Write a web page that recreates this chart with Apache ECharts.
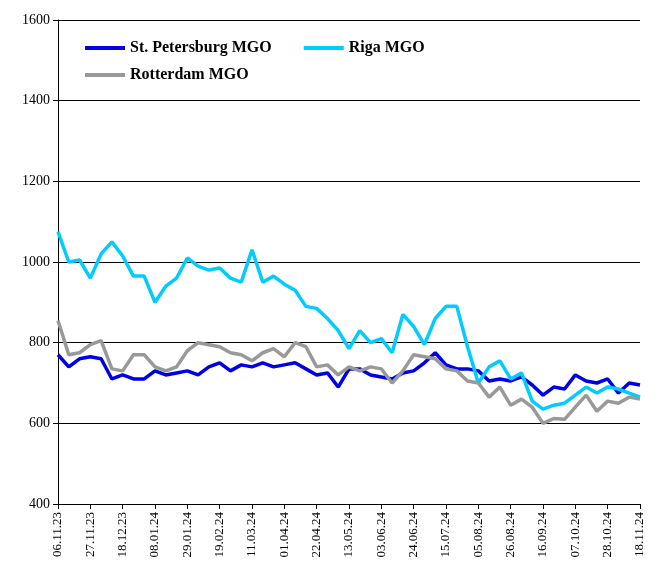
<!DOCTYPE html>
<html><head><meta charset="utf-8">
<script src="https://cdn.jsdelivr.net/npm/echarts@6/dist/echarts.min.js"></script>
<style>html,body{margin:0;padding:0;background:#fff}#c{width:655px;height:585px}</style>
</head><body><div id="c"></div>
<script>
const dates = ['06.11.23','13.11.23','20.11.23','27.11.23','04.12.23','11.12.23','18.12.23','25.12.23','01.01.24','08.01.24','15.01.24','22.01.24','29.01.24','05.02.24','12.02.24','19.02.24','26.02.24','04.03.24','11.03.24','18.03.24','25.03.24','01.04.24','08.04.24','15.04.24','22.04.24','29.04.24','06.05.24','13.05.24','20.05.24','27.05.24','03.06.24','10.06.24','17.06.24','24.06.24','01.07.24','08.07.24','15.07.24','22.07.24','29.07.24','05.08.24','12.08.24','19.08.24','26.08.24','02.09.24','09.09.24','16.09.24','23.09.24','30.09.24','07.10.24','14.10.24','21.10.24','28.10.24','04.11.24','11.11.24','18.11.24'];
const stPetersburg = [770,740,760,765,760,710,720,710,710,730,720,725,730,720,740,750,730,745,740,750,740,745,750,735,720,725,690,735,735,720,715,710,725,730,750,775,745,735,735,730,705,710,705,715,695,670,690,685,720,705,700,710,675,700,695];
const riga = [1075,1000,1005,960,1020,1050,1015,965,965,900,940,960,1010,990,980,985,960,950,1030,950,965,945,930,890,885,860,830,785,830,800,810,775,870,840,795,860,890,890,790,700,740,755,710,725,655,635,645,650,670,690,675,690,685,675,665];
const rotterdam = [855,770,775,795,805,735,730,770,770,740,730,740,780,800,795,790,775,770,755,775,785,765,800,790,740,745,720,740,730,740,735,700,730,770,765,760,735,730,705,700,665,690,645,660,640,600,612,610,640,670,630,655,650,665,660];

const chart = echarts.init(document.getElementById('c'));
const legendText = {fontFamily: 'Liberation Serif', fontWeight: 'bold', fontSize: 16, color: '#000'};
const mk = (name, data, color) => ({name, type: 'line', data, showSymbol: false, lineStyle: {color, width: 3.5}, itemStyle: {color}});
chart.setOption({
  animation: false,
  grid: {left: 58, right: 15, top: 20, bottom: 81},
  legend: [
    {left: 80, top: 35, itemWidth: 40, itemHeight: 4, itemGap: 32, icon: 'rect', textStyle: legendText, data: ['St. Petersburg MGO', 'Riga MGO']},
    {left: 80, top: 62, itemWidth: 40, itemHeight: 4, icon: 'rect', textStyle: legendText, data: ['Rotterdam MGO']}
  ],
  xAxis: {
    type: 'category', data: dates, boundaryGap: false,
    axisLine: {lineStyle: {color: '#000'}},
    axisTick: {interval: 2, lineStyle: {color: '#000'}},
    axisLabel: {interval: 2, rotate: 90, fontFamily: 'Liberation Serif', fontSize: 13, color: '#000'}
  },
  yAxis: {
    type: 'value', min: 400, max: 1600, interval: 200,
    axisLine: {show: true, lineStyle: {color: '#000'}},
    axisTick: {show: true, lineStyle: {color: '#000'}},
    splitLine: {lineStyle: {color: '#000'}},
    axisLabel: {formatter: v => String(v), fontFamily: 'Liberation Serif', fontSize: 14, color: '#000'}
  },
  series: [
    mk('St. Petersburg MGO', stPetersburg, '#0000e6'),
    mk('Riga MGO', riga, '#00ccff'),
    mk('Rotterdam MGO', rotterdam, '#999999')
  ]
});
</script></body></html>
